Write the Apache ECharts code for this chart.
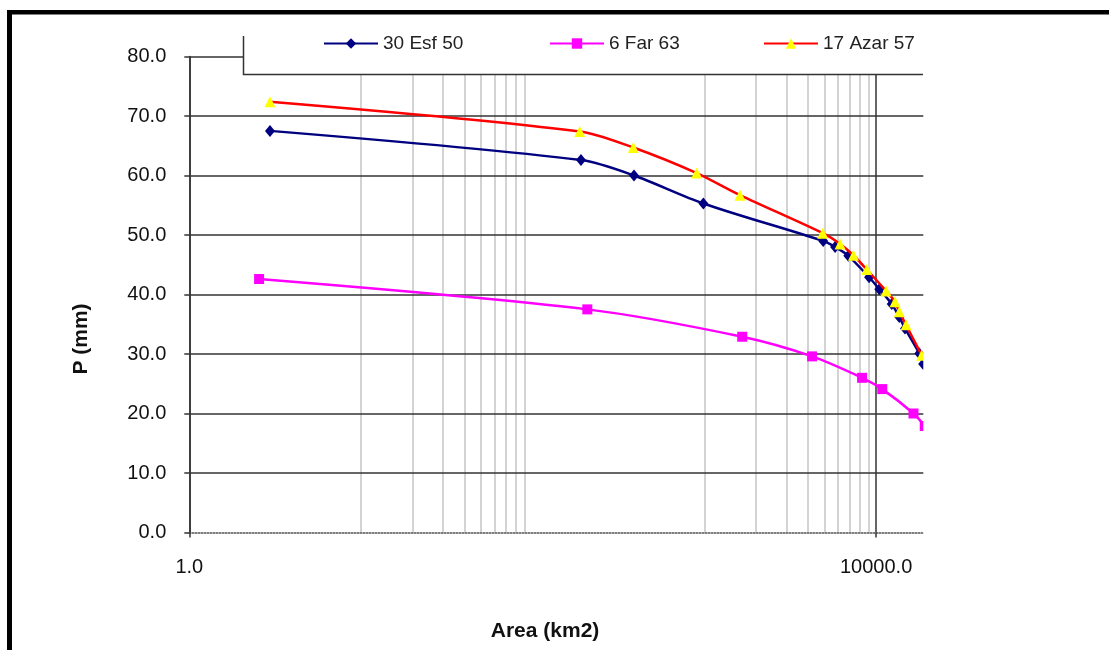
<!DOCTYPE html>
<html>
<head>
<meta charset="utf-8">
<title>P - Area</title>
<script src="https://cdn.jsdelivr.net/npm/echarts@6/dist/echarts.min.js"></script>
<style>
  html, body { margin: 0; padding: 0; background: #fff; }
  #chart { width: 1109px; height: 650px; }
</style>
</head>
<body>
<div id="chart"></div>
<script>
// storm names
const stormNames = ['30 Esf 50', '6 Far 63', '17 Azar 57'];

// 30 Esf 50
const esfArea = [2.95, 191, 389, 986, 4920, 5770, 6890, 9100, 10440, 12330, 13640, 14730, 17850, 18800];
const esfP = [67.5, 62.6, 60.0, 55.3, 49.0, 48.0, 46.5, 42.9, 40.9, 38.4, 36.2, 34.3, 30.1, 28.3];

// 6 Far 63
const farArea = [2.55, 208, 1660, 4238, 8285, 10860, 16510, 19200];
const farP = [42.6, 37.5, 32.9, 29.6, 26.0, 24.1, 20.0, 17.9];

// 17 Azar 57
const azarArea = [2.95, 188, 385, 902, 1611, 4890, 6166, 7377, 8818, 11430, 12880, 13640, 14930, 18420];
const azarP = [72.4, 67.4, 64.7, 60.4, 56.7, 50.3, 48.5, 46.6, 44.2, 40.6, 38.8, 37.1, 34.9, 29.8];

// axis ticks
const xLabelValues = [1, 10000];
const minorGridX = [10, 20, 30, 40, 50, 60, 70, 80, 90, 1000, 2000, 3000, 4000, 5000, 6000, 7000, 8000, 9000];

function pairs(xs, ys) {
  var out = [];
  for (var i = 0; i < xs.length; i++) out.push([xs[i], ys[i]]);
  return out;
}

var font = 'Liberation Sans, Arial, sans-serif';
var chart = echarts.init(document.getElementById('chart'));

var option = {
  animation: false,
  backgroundColor: '#fff',
  grid: { left: 189.3, right: 181.2, top: 56.5, bottom: 117.5 },
  legend: [
    { data: [stormNames[0]], left: 323, top: 34 },
    { data: [stormNames[1]], left: 549, top: 34 },
    { data: [stormNames[2]], left: 763, top: 34 }
  ].map(function (l) {
    l.padding = 0;
    l.itemWidth = 54;
    l.itemHeight = 13;
    l.z = 200;
    l.textStyle = { fontFamily: font, fontSize: 19, color: '#222' };
    return l;
  }),
  xAxis: {
    type: 'log',
    logBase: 10000,
    min: 1,
    max: 20000,
    z: 2,
    name: 'Area (km2)',
    nameLocation: 'middle',
    nameGap: 88,
    nameTextStyle: { fontFamily: font, fontSize: 21, fontWeight: 'bold', color: '#111', padding: [0, 27, 0, 0] },
    axisLine: { lineStyle: { color: '#555', width: 1.5, type: 'dotted' } },
    axisTick: { show: true, length: 5, lineStyle: { color: '#333', width: 1.5 } },
    axisLabel: {
      margin: 25,
      fontFamily: font, fontSize: 20, color: '#111',
      formatter: function (v) {
        return xLabelValues.indexOf(Math.round(v)) >= 0 ? Number(v).toFixed(1) : '';
      }
    },
    splitLine: { show: true, lineStyle: { color: '#333', width: 1.5 } }
  },
  yAxis: {
    type: 'value',
    min: 0,
    max: 80,
    interval: 10,
    z: 2,
    name: 'P (mm)',
    nameLocation: 'middle',
    nameGap: 98,
    nameTextStyle: { fontFamily: font, fontSize: 21, fontWeight: 'bold', color: '#111', padding: [0, 89, 0, 0] },
    axisLine: { show: true, lineStyle: { color: '#333', width: 1.5 } },
    axisTick: { show: true, length: 5, lineStyle: { color: '#333', width: 1.5 } },
    axisLabel: {
      margin: 23,
      fontFamily: font, fontSize: 20, color: '#111',
      formatter: function (v) { return v.toFixed(1); }
    },
    splitLine: { show: true, showMinLine: false, lineStyle: { color: '#333', width: 1.5 } }
  },
  series: [
    {
      // minor grid lines
      name: 'minor',
      type: 'line',
      data: [],
      z: 1,
      silent: true,
      markLine: {
        z: 1,
        silent: true,
        symbol: 'none',
        label: { show: false },
        lineStyle: { color: '#c4c4c4', width: 1.5, type: 'solid' },
        data: minorGridX.map(function (v) { return { xAxis: v }; })
      }
    },
    {
      name: stormNames[0],
      type: 'line',
      z: 3,
      smooth: 0.3,
      data: pairs(esfArea, esfP),
      symbol: 'diamond',
      symbolSize: [10, 12],
      itemStyle: { color: '#000080' },
      lineStyle: { color: '#000080', width: 2.5 }
    },
    {
      name: stormNames[1],
      type: 'line',
      z: 3,
      smooth: 0.3,
      data: pairs(farArea, farP),
      symbol: 'rect',
      symbolSize: 10,
      itemStyle: { color: '#ff00ff' },
      lineStyle: { color: '#ff00ff', width: 2.5 }
    },
    {
      name: stormNames[2],
      type: 'line',
      z: 4,
      smooth: 0.3,
      data: pairs(azarArea, azarP),
      symbol: 'triangle',
      symbolSize: 11,
      itemStyle: { color: '#ffff00' },
      lineStyle: { color: '#ff0000', width: 2.5 }
    }
  ],
  graphic: [
    // cropped right side of the plot
    { type: 'rect', z: 100, shape: { x: 923.3, y: 20, width: 186, height: 525 }, style: { fill: '#fff' } },
    // legend box
    { type: 'rect', z: 100, shape: { x: 243, y: 36, width: 682, height: 38.5 }, style: { fill: '#fff' } },
    { type: 'polyline', z: 101, shape: { points: [[243.5, 36], [243.5, 74.5], [923, 74.5]] },
      style: { stroke: '#333', lineWidth: 1.5, fill: null } },
    // outer frame
    { type: 'rect', z: 101, shape: { x: 7, y: 10, width: 5, height: 640 }, style: { fill: '#000' } },
    { type: 'rect', z: 101, shape: { x: 7, y: 10, width: 1102, height: 4.5 }, style: { fill: '#000' } }
  ]
};

chart.setOption(option);
window.addEventListener('resize', function () {
  chart.resize();
});
</script>
</body>
</html>
